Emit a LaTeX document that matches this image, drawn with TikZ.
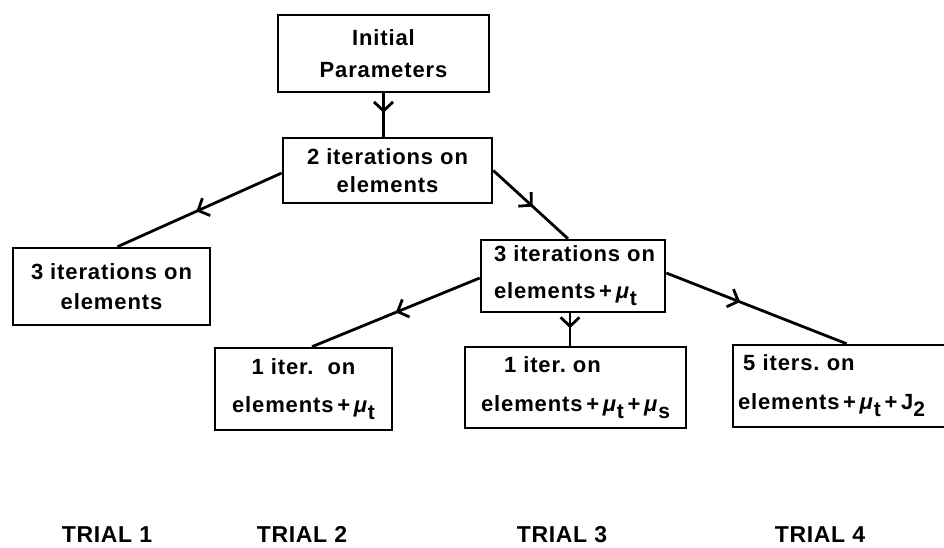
\documentclass[tikz,border=0pt]{standalone}
\usepackage{fontspec}
\setmainfont{Liberation Sans}[LetterSpace=4]
\newfontfamily\trialfont{Liberation Sans}[LetterSpace=3]
\usetikzlibrary{arrows.meta,decorations.markings,calc}
\newcommand{\lowsub}[1]{\raisebox{-0.32em}{\fontsize{21}{21}\selectfont #1}}
\newcommand{\mut}{\textit{μ}\lowsub{t}}
\newcommand{\mus}{\textit{μ}\lowsub{s}}
\begin{document}
\begin{tikzpicture}[x=1pt,y=-1pt,
  box/.style={draw, line width=2.6pt, inner sep=0pt, font=\fontsize{22}{30}\selectfont\bfseries},
  flow/.style={line width=2.8pt, postaction={decorate},
    decoration={markings, mark=at position #1 with {\arrow{Straight Barb[length=9pt,width=19pt]}}}},
  trial/.style={anchor=base, font=\trialfont\fontsize{23}{23}\selectfont\bfseries}]
\useasboundingbox (0,0) rectangle (944,547);
\clip (0,0) rectangle (944,547);
\node[box, minimum width=211, minimum height=77, align=center] (init) at (383.5,53.5) {Initial\\[2pt]Parameters};
\node[box, minimum width=209, minimum height=65, align=center] (two) at (387.5,170.5) {2 iterations on\\[-2pt]elements};
\node[box, minimum width=197, minimum height=77, align=center] (left) at (111.5,286.5) {3 iterations on\\elements};
\node[box, minimum width=184, minimum height=72, align=left] (mid) at (573,276) {\hspace*{3pt}3 iterations on\\[7pt]\hspace*{3pt}elements\,+\,\mut};
\node[box, minimum width=177, minimum height=82, align=center] (b1) at (303.5,389) {1 iter.\ \ on\\[8pt]elements\,+\,\mut};
\node[box, minimum width=221, minimum height=81, align=left] (b2) at (575.5,387.5) {\hspace*{23pt}1 iter.\ on\\[9pt]elements\,+\,\mut\,+\,\mus};
\node[box, minimum width=227, minimum height=82, text width=217, inner xsep=5pt, align=left] (b3) at (846.5,386) {\hspace*{5pt}5 iters.\ on\\[9pt]elements\,+\,\mut\,+\,J\lowsub{2}};
\draw[flow=0.45] (init.south) -- (init.south |- two.north);
\draw[flow=0.52] ($(two.west)+(0,2.5)$) -- ($(left.north)+(6,0)$);
\draw[flow=0.53] (two.east) -- ($(mid.north)+(-5,0)$);
\draw[flow=0.5] ($(mid.west)+(0,2)$) -- ($(b1.north)+(8.5,0)$);
\draw[flow=0.46] ($(mid.south)+(-3,0)$) -- ($(b2.north)+(-5.5,0)$);
\draw[flow=0.41] ($(mid.east)+(0,-3)$) -- (b3.north);
\node[trial] (t1) at (107,542) {TRIAL 1};
\node[trial] (t2) at (302,542) {TRIAL 2};
\node[trial] (t3) at (562,542) {TRIAL 3};
\node[trial] (t4) at (820,542) {TRIAL 4};
\end{tikzpicture}
\end{document}
